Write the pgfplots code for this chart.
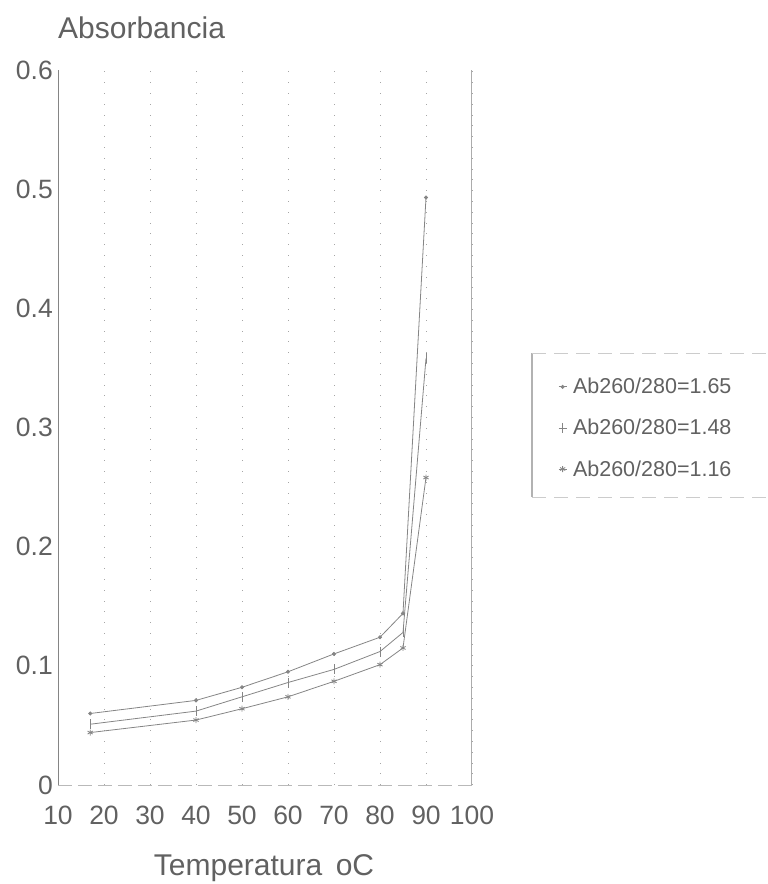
\documentclass[border=0pt]{standalone}
\usepackage{pgfplots}
\pgfplotsset{compat=1.18}
\usepackage{fontspec}
\setmainfont{Liberation Sans}
\definecolor{txt}{gray}{0.38}
\definecolor{ln}{gray}{0.52}
\begin{document}
\begin{tikzpicture}[x=1pt,y=1pt]
\useasboundingbox (0,0) rectangle (768,884);
\node[anchor=west, text=txt, font=\fontsize{30}{35}\selectfont, inner sep=0pt] at (58,856) {Absorbancia};
\node[anchor=center, text=txt, font=\fontsize{30}{35}\selectfont, inner sep=0pt] at (264,16) {Temperatura\hspace{0.45em}oC};
\begin{axis}[
  at={(58pt,99pt)}, anchor=south west, scale only axis,
  width=414pt, height=715pt,
  xmin=10, xmax=100, ymin=0, ymax=0.6,
  axis line style={draw=none},
  xtick={10,20,30,40,50,60,70,80,90,100},
  ytick={0,0.1,0.2,0.3,0.4,0.5,0.6},
  yticklabels={0,0.1,0.2,0.3,0.4,0.5,0.6},
  major tick length=0pt,
  /pgf/number format/assume math mode=true,
  tick label style={font=\fontsize{26.5}{30}\selectfont, text=txt, inner sep=0pt},
  xticklabel style={yshift=-21pt},
  yticklabel style={xshift=-5pt},
  xmajorgrids, ymajorgrids=false,
  grid style={gray!70, line width=0.8pt, dash pattern=on 0.8pt off 10pt},
  legend style={at={(1.145,0.604)}, anchor=north west, draw=none,
    font=\fontsize{21.5}{26}\selectfont, text=txt, fill=none,
    row sep=20pt, inner xsep=26pt, inner ysep=23pt,
    nodes={inner xsep=6pt}},
  legend cell align=left,
  legend image code/.code={\draw[mark repeat=2,mark phase=2,#1] plot coordinates {(0pt,0pt)(4pt,0pt)(8pt,0pt)};},
  every axis plot/.append style={ln, line width=0.8pt},
]
\draw[ln, line width=1.2pt] (rel axis cs:0,0) -- (rel axis cs:0,1);
\draw[gray!65, line width=1.2pt] (rel axis cs:1,0) -- (rel axis cs:1,1);
\draw[gray!55, line width=1pt, dash pattern=on 14pt off 6pt] (rel axis cs:0,0) -- (rel axis cs:1,0);
\addplot[mark=*, mark size=1.6pt] coordinates {
(17,0.060) (40,0.071) (50,0.082) (60,0.095) (70,0.110) (80,0.124) (85,0.144) (90,0.493)};
\addlegendentry{Ab260/280=1.65}
\addplot[mark=|, mark size=5pt] coordinates {
(17,0.051) (40,0.062) (50,0.074) (60,0.086) (70,0.097) (80,0.112) (85,0.128) (90,0.358)};
\addlegendentry{Ab260/280=1.48}
\addplot[mark=asterisk, mark size=3pt] coordinates {
(17,0.044) (40,0.0545) (50,0.064) (60,0.074) (70,0.087) (80,0.101) (85,0.115) (90,0.258)};
\addlegendentry{Ab260/280=1.16}
\end{axis}
\draw[gray!60, line width=1.2pt] (532,531) -- (532,387);
\draw[gray!40, line width=0.8pt, dash pattern=on 14pt off 8pt] (532,531) -- (768,531);
\draw[gray!40, line width=0.8pt, dash pattern=on 14pt off 8pt] (532,387) -- (768,387);
\end{tikzpicture}
\end{document}
